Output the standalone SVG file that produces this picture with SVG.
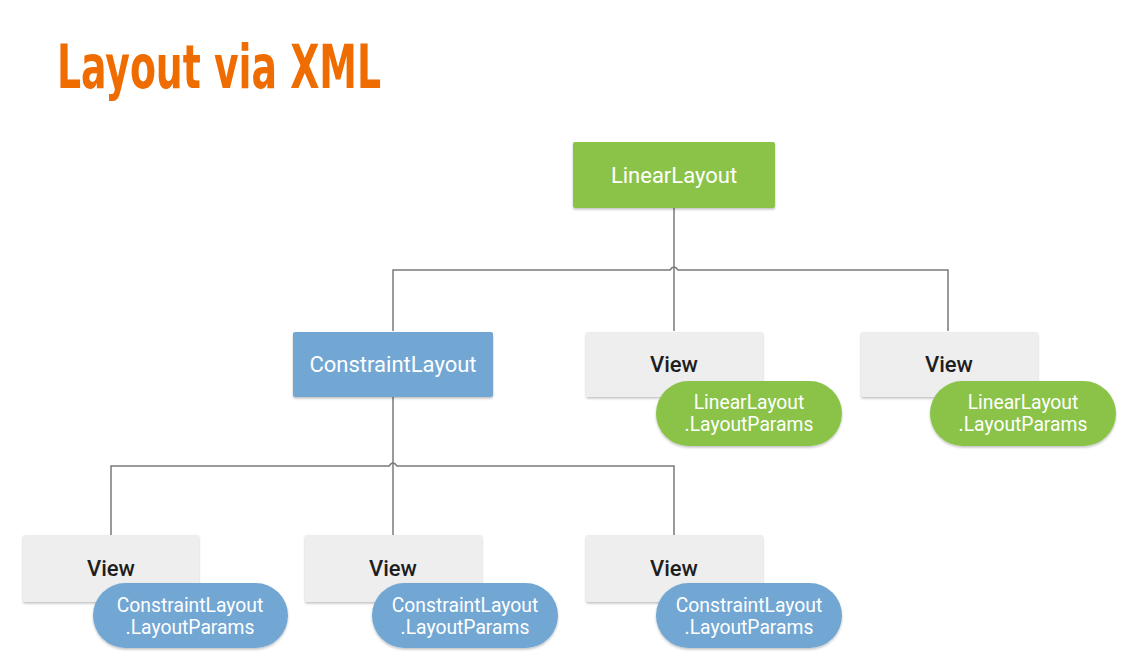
<svg xmlns="http://www.w3.org/2000/svg" width="1146" height="672" viewBox="0 0 1146 672">
<defs>
<filter id="sh" x="-10%" y="-10%" width="120%" height="130%">
<feDropShadow dx="0" dy="1.5" stdDeviation="1.2" flood-color="#000" flood-opacity="0.25"/>
</filter>
<style>
.box{filter:url(#sh)}
.green{fill:#8BC34A}
.blue{fill:#72A7D4}
.grey{fill:#EEEEEE}
.lbl{font-family:Roboto,"Liberation Sans",sans-serif;font-size:22px;text-anchor:middle}
.w{fill:#FFFFFF}
.k{fill:#1E1E1E;font-weight:500}
.pl{font-family:Roboto,"Liberation Sans",sans-serif;font-size:19.3px;text-anchor:middle;fill:#FFFFFF}
.ln{fill:none;stroke:#7A7A7A;stroke-width:1.5}
</style>
</defs>
<rect width="1146" height="672" fill="#FFFFFF"/>
<text x="57" y="88" font-family="'DejaVu Sans Condensed','DejaVu Sans',sans-serif" font-weight="bold" font-size="60" fill="#EF6C00" textLength="324" lengthAdjust="spacingAndGlyphs">Layout via XML</text>

<g id="connectors">
<path class="ln" d="M674,208 V331"/>
<path class="ln" d="M393,331 V270 H670 Q674,264 678,270 H948 V331"/>
<path class="ln" d="M393,397 V535"/>
<path class="ln" d="M111,535 V466 H389 Q393,460 397,466 H674 V535"/>
</g>

<g id="linearlayout">
<rect class="box green" x="573" y="142" width="202" height="66" rx="2"/>
<text class="lbl w" x="674" y="183">LinearLayout</text>
</g>

<g id="constraintlayout">
<rect class="box blue" x="293" y="332" width="200" height="65" rx="2"/>
<text class="lbl w" x="393" y="372">ConstraintLayout</text>
</g>

<g id="view-m1">
<rect class="box grey" x="586" y="332" width="177" height="65" rx="2"/>
<text class="lbl k" x="674" y="372">View</text>
<rect class="box green" x="656" y="381" width="186" height="65" rx="32.5"/>
<text class="pl" x="749" y="409">LinearLayout</text>
<text class="pl" x="749" y="431">.LayoutParams</text>
</g>

<g id="view-m2">
<rect class="box grey" x="861" y="332" width="177" height="65" rx="2"/>
<text class="lbl k" x="949" y="372">View</text>
<rect class="box green" x="930" y="381" width="186" height="65" rx="32.5"/>
<text class="pl" x="1023" y="409">LinearLayout</text>
<text class="pl" x="1023" y="431">.LayoutParams</text>
</g>

<g id="view-b1">
<rect class="box grey" x="23" y="535" width="176" height="67" rx="2"/>
<text class="lbl k" x="111" y="576">View</text>
<rect class="box blue" x="93" y="583" width="195" height="65" rx="32.5"/>
<text class="pl" x="190" y="612">ConstraintLayout</text>
<text class="pl" x="190" y="634">.LayoutParams</text>
</g>

<g id="view-b2">
<rect class="box grey" x="305" y="535" width="177" height="67" rx="2"/>
<text class="lbl k" x="393" y="576">View</text>
<rect class="box blue" x="372" y="583" width="186" height="65" rx="32.5"/>
<text class="pl" x="465" y="612">ConstraintLayout</text>
<text class="pl" x="465" y="634">.LayoutParams</text>
</g>

<g id="view-b3">
<rect class="box grey" x="586" y="535" width="177" height="67" rx="2"/>
<text class="lbl k" x="674" y="576">View</text>
<rect class="box blue" x="656" y="583" width="186" height="65" rx="32.5"/>
<text class="pl" x="749" y="612">ConstraintLayout</text>
<text class="pl" x="749" y="634">.LayoutParams</text>
</g>
</svg>
